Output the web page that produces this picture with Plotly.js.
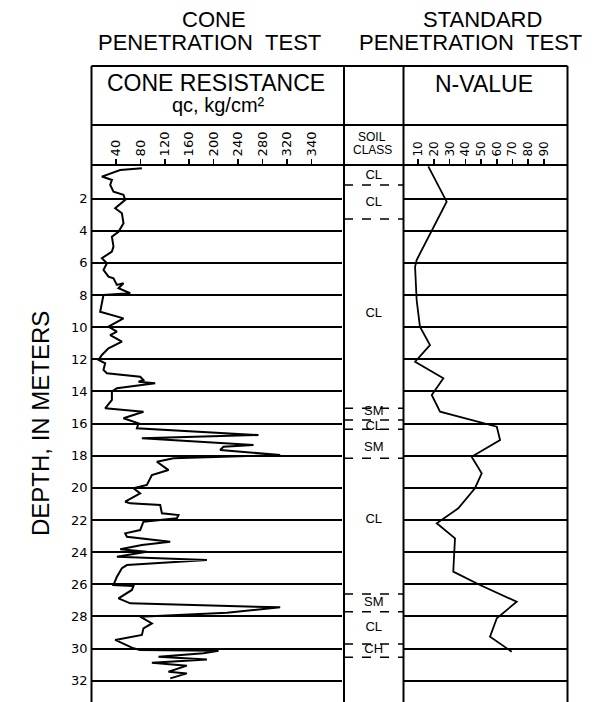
<!DOCTYPE html>
<html>
<head>
<meta charset="utf-8">
<script src="https://cdn.plot.ly/plotly-3.0.1.min.js"></script>
<style>html,body{margin:0;padding:0;background:#fff;}#chart{width:603px;height:702px;}</style>
</head>
<body>
<div id="chart"></div>
<script>
// ---- Data ----
// Cone penetration test: cone resistance qc (kg/cm2) vs depth (m)
const qcValues = [82.5, 47, 17, 33.4, 30.6, 36, 52.4, 55.2, 38.8, 49.8, 52.4, 44.2, 33.4, 36, 33.4, 17, 25.2, 19.6, 27.8, 36, 41.6, 52.4, 44.2, 63.4, 19.6, 17, 14.2, 52.4, 27.8, 41.6, 30.6,
  49.8, 27.8, 17, 11.5, 22.4, 19.6, 25.2, 79.7, 85.1, 77, 104.3, 41.6, 33.4, 33.4, 22.4, 85.1, 52.4, 77, 74.3, 273.5, 82.5, 265.3, 216.1, 210.7, 309, 134.3, 107.1, 126.1, 98.9, 90.7, 68.8, 79.7, 55.2, 63.4,
  112.5, 115.3, 142.5, 139.8, 85.1, 79.7, 55.2, 58, 128.9, 82.5, 47, 90.7, 41.6, 189, 58, 49.8, 41.6, 36, 68.8, 66.2, 44.2, 63.4, 309, 221.7, 79.7, 98.9, 85.1, 82.5, 38.8, 68.8, 79.7, 208, 183.4, 109.7, 189, 98.9, 156.2, 126.1, 156.2, 128.9];
const qcDepths = [0.11, 0.22, 0.63, 0.84, 1.15, 1.57, 1.77, 2.08, 2.6, 2.91, 3.53, 4.06, 4.37, 4.99, 5.3, 5.71, 6.02, 6.44, 6.86, 6.96, 7.37, 7.27, 7.58, 7.89, 8.0, 8.51, 9.04, 9.45, 9.97, 10.28, 10.49,
  10.9, 11.31, 11.73, 12.04, 12.25, 12.66, 12.87, 13.08, 13.29, 13.39, 13.49, 13.8, 14.01, 14.53, 15.05, 15.26, 15.67, 15.98, 16.29, 16.71, 16.91, 17.33, 17.44, 17.64, 17.95, 18.16, 18.37, 18.89, 19.2, 19.82, 20.02, 20.34, 20.86, 20.96,
  21.06, 21.58, 21.69, 21.89, 22.1, 22.62, 22.83, 23.04, 23.35, 23.55, 23.82, 23.97, 24.28, 24.49, 24.8, 25.0, 25.53, 26.04, 26.1, 26.35, 26.87, 27.18, 27.43, 27.77, 28.01, 28.43, 28.74, 29.15, 29.46, 29.98, 30.09, 30.13, 30.29, 30.5, 30.67, 30.88, 31.06, 31.44, 31.54, 31.85];

// Standard penetration test: N-value vs depth (m)
const nValues = [16.4, 28.1, 9.0, 8.0, 9.0, 11.1, 17.5, 8.0, 26.0, 18.6, 23.9, 47.2, 60.0, 62.1, 44.0, 50.4, 46.1, 35.5, 21.8, 33.4, 32.3, 49.3, 72.7, 60.0, 55.7, 69.5];
const nDepths = [0.0, 2.19, 5.82, 6.24, 8.31, 9.97, 11.11, 12.15, 13.18, 14.22, 15.26, 15.88, 16.19, 17.02, 18.06, 19.09, 20.02, 21.27, 22.2, 23.14, 25.21, 26.04, 27.08, 28.11, 29.26, 30.19];

// Soil classification
const soilBoundaries = [1.15, 3.27, 15.05, 15.77, 16.35, 18.16, 26.6, 27.7, 29.71, 30.54];
const soilLabels = ["CL", "CL", "CL", "SM", "CL", "SM", "CL", "SM", "CL", "CH"];
const soilLabelDepths = [0.55, 2.25, 9.14, 15.25, 16.22, 17.5, 22.0, 27.12, 28.72, 30.1];

// Axis ticks
const qcTickVals = [40, 80, 120, 160, 200, 240, 280, 320, 360];
const qcTickText = ["40", "80", "120", "160", "200", "240", "280", "320", "340"];
const nTickVals = [10, 20, 30, 40, 50, 60, 70, 80, 90];
const nTickText = ["10", "20", "30", "40", "50", "60", "70", "80", "90"];
const depthTickVals = [2, 4, 6, 8, 10, 12, 14, 16, 18, 20, 22, 24, 26, 28, 30, 32];

// ---- Geometry helpers (pixels -> paper) ----
const W = 603, H = 702;
const px = x => x / W;
const py = y => 1 - y / H;

const xL = 91.5, xM1 = 344, xM2 = 403.5, xR = 567.5;
const yBox = 66, yDiv = 125, yTop = 165;

// soil boundary dashed segments
const sbx = [], sby = [];
soilBoundaries.forEach(d => { sbx.push(0, 1, null); sby.push(d, d, null); });

const FONT = "Liberation Sans, Arial, sans-serif";
const NUMFONT = "DejaVu Sans, sans-serif";

const traces = [
  {x: qcValues, y: qcDepths, xaxis: 'x', yaxis: 'y', mode: 'lines', line: {color: '#000', width: 2}, hoverinfo: 'skip'},
  {x: nValues, y: nDepths, xaxis: 'x2', yaxis: 'y2', mode: 'lines', line: {color: '#000', width: 1.8}, hoverinfo: 'skip'},
  {x: sbx, y: sby, xaxis: 'x3', yaxis: 'y3', mode: 'lines', line: {color: '#000', width: 1.5, dash: 'dash'}, hoverinfo: 'skip'},
  {x: soilLabels.map(() => 0.5), y: soilLabelDepths, text: soilLabels, xaxis: 'x3', yaxis: 'y3', mode: 'text',
   textfont: {family: FONT, size: 13, color: '#000'}, hoverinfo: 'skip'}
];

const yRange = [33.32, -0.09];
const yDomain = [0, py(yTop)];

const vline = (x, y0, y1, w) => ({type: 'line', xref: 'paper', yref: 'paper', x0: px(x), x1: px(x), y0: py(y0), y1: py(y1), line: {color: '#000', width: w || 2}});
const hline = (y, x0, x1, w) => ({type: 'line', xref: 'paper', yref: 'paper', x0: px(x0), x1: px(x1), y0: py(y), y1: py(y), line: {color: '#000', width: w || 2}});

const ann = (text, x, y, size, extra) => Object.assign({text: text, x: px(x), y: py(y), xref: 'paper', yref: 'paper', showarrow: false,
  xanchor: 'center', yanchor: 'middle', font: {family: FONT, size: size, color: '#000'}}, extra || {});

const layout = {
  width: W, height: H,
  margin: {l: 0, r: 0, t: 0, b: 0},
  paper_bgcolor: '#fff', plot_bgcolor: '#fff',
  showlegend: false,
  xaxis: {domain: [px(xL), px(341.5)], range: [0, 409.4], side: 'top', anchor: 'y',
    tickmode: 'array', tickvals: qcTickVals, ticktext: qcTickText, ticks: 'outside', ticklen: 5, tickwidth: 1.5, tickcolor: '#000',
    tickangle: -90, tickfont: {family: NUMFONT, size: 13, color: '#000'}, showgrid: false, zeroline: false, showline: false},
  yaxis: {domain: yDomain, range: yRange, anchor: 'x', tickmode: 'array', tickvals: depthTickVals, ticks: '',
    tickfont: {family: NUMFONT, size: 13, color: '#000'}, showgrid: true, gridcolor: '#000', gridwidth: 2, zeroline: false, showline: false,
    ticklabelstandoff: 3},
  xaxis2: {domain: [px(402.5), px(xR)], range: [0, 105], side: 'top', anchor: 'y2',
    tickmode: 'array', tickvals: nTickVals, ticktext: nTickText, ticks: 'outside', ticklen: 5, tickwidth: 1.5, tickcolor: '#000',
    tickangle: -90, tickfont: {family: NUMFONT, size: 12, color: '#000'}, showgrid: false, zeroline: false, showline: false},
  yaxis2: {domain: yDomain, range: yRange, anchor: 'x2', matches: 'y', tickmode: 'array', tickvals: depthTickVals,
    showticklabels: false, ticks: '', showgrid: true, gridcolor: '#000', gridwidth: 2, zeroline: false, showline: false},
  xaxis3: {domain: [px(xM1), px(xM2)], range: [0, 1], anchor: 'y3', visible: false},
  yaxis3: {domain: yDomain, range: yRange, anchor: 'x3', matches: 'y', visible: false},
  shapes: [
    vline(xL, yBox, H), vline(xM1, yBox, H), vline(xM2, yBox, H), vline(xR, yBox, H),
    hline(yBox, xL, xR), hline(yDiv, xL, xR), hline(yTop, xL, xR)
  ],
  annotations: [
    ann('CONE', 214, 19, 22),
    ann('PENETRATION&nbsp;&nbsp;TEST', 209, 42, 22),
    ann('STANDARD', 482, 19, 22),
    ann('PENETRATION&nbsp;&nbsp;TEST', 470.5, 42, 22),
    ann('CONE RESISTANCE', 216, 83, 23),
    ann('qc, kg/cm²', 218, 105, 20),
    ann('N-VALUE', 484, 84, 23),
    ann('SOIL', 372, 137, 12),
    ann('CLASS', 372, 150, 12),
    ann('DEPTH, IN METERS', 40, 424, 24, {textangle: -90})
  ]
};

Plotly.newPlot('chart', traces, layout, {staticPlot: true, displayModeBar: false});
</script>
</body>
</html>
